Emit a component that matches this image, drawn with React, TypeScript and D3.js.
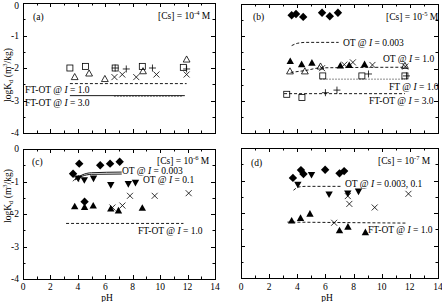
import React from 'react';
import * as d3 from 'd3';

type Pt = [number, number];

// ---------- data: panel (a) [Cs] = 1e-4 M ----------
const aSquares: Pt[] = [[3.42, -2.0], [4.55, -1.95], [6.72, -2.0], [8.7, -1.95], [11.69, -1.98]];
const aTriOpen: Pt[] = [[3.77, -2.28], [4.82, -2.17], [5.97, -2.34], [8.75, -2.1], [11.93, -1.74]];
const aCrosses: Pt[] = [[6.67, -2.28], [7.24, -2.2], [8.26, -2.28], [9.73, -2.2], [11.93, -2.2]];
const aPlus: Pt[] = [[6.72, -2.0], [7.53, -2.03], [9.44, -2.0], [11.93, -2.03]];
const aFtOt10: Pt[] = [[3.42, -2.48], [11.93, -2.48]];
const aFtOt30: Pt[] = [[3.42, -2.85], [11.8, -2.85]];
const aFtOt30b: Pt[] = [[6.67, -2.87], [11.7, -2.87]];

// ---------- data: panel (b) [Cs] = 1e-5 M ----------
const bDiamonds: Pt[] = [[3.6, -0.35], [3.91, -0.31], [4.42, -0.4], [5.76, -0.27], [6.31, -0.38], [6.89, -0.27]];
const bTriFilled: Pt[] = [[3.5, -1.78], [4.31, -1.875], [5.04, -1.83], [7.06, -1.92], [7.69, -1.9], [8.78, -1.875]];
const bTriOpen: Pt[] = [[3.48, -2.09], [4.54, -2.09], [5.65, -1.94], [11.65, -1.92]];
const bCrosses: Pt[] = [[5.76, -1.99], [7.34, -1.88], [7.95, -1.81], [9.34, -1.89], [11.67, -1.94]];
const bSquares: Pt[] = [[3.25, -2.8], [4.33, -2.9], [5.81, -2.23], [8.59, -2.23], [11.65, -2.23]];
const bPlus: Pt[] = [[6.0, -2.75], [6.82, -2.67], [9.06, -2.17], [11.76, -2.23]];
const bOt0003: Pt[] = [[3.6, -1.29], [4.0, -1.22], [4.6, -1.19], [6.94, -1.19]];
const bOt10: Pt[] = [[3.53, -2.12], [4.6, -2.06], [5.65, -1.98], [11.76, -1.96]];
const bFt10: Pt[] = [[5.65, -2.33], [11.65, -2.33]];
const bFtOt30: Pt[] = [[3.06, -2.78], [11.65, -2.78]];

// ---------- data: panel (c) [Cs] = 1e-6 M ----------
const cDiamonds: Pt[] = [[3.65, -0.76], [4.1, -0.45], [5.63, -0.5], [6.35, -0.45], [7.05, -0.39], [4.49, -1.62]];
const cTriDown: Pt[] = [[4.03, -0.9], [4.47, -0.95], [5.14, -0.9], [6.4, -1.1], [7.68, -1.07], [8.2, -1.03]];
const cCrosses: Pt[] = [[3.86, -0.9], [6.52, -1.8], [7.25, -1.74], [7.8, -1.44], [9.6, -1.44], [12.08, -1.36]];
const cTriUp: Pt[] = [[3.77, -1.77], [4.49, -1.79], [5.12, -1.75], [6.4, -1.84], [6.96, -1.9], [8.7, -1.82]];
const cOt0003: Pt[] = [[3.8, -0.93], [4.3, -0.8], [5.0, -0.73], [7.2, -0.71]];
const cOt01: Pt[] = [[3.8, -0.95], [4.3, -0.84], [5.0, -0.78], [7.2, -0.77]];
const cFtOt10: Pt[] = [[3.14, -2.29], [11.7, -2.29]];

// ---------- data: panel (d) [Cs] = 1e-7 M ----------
const dDiamonds: Pt[] = [[3.69, -0.92], [4.26, -0.68], [4.44, -0.8], [5.98, -0.67], [7.0, -0.78], [7.33, -0.71]];
const dTriDown: Pt[] = [[4.04, -1.12], [5.01, -0.82], [6.26, -1.42], [7.59, -1.39], [8.35, -1.33]];
const dCrosses: Pt[] = [[6.62, -2.3], [7.59, -1.48], [7.7, -1.72], [9.5, -1.83], [11.9, -1.41]];
const dTriUp: Pt[] = [[3.6, -2.24], [4.23, -2.16], [4.9, -2.03], [7.0, -2.54], [7.6, -2.43], [8.84, -2.6]];
const dOt: Pt[] = [[3.73, -1.3], [4.1, -1.2], [4.6, -1.18], [7.09, -1.18]];
const dFtOt10: Pt[] = [[3.3, -2.28], [11.7, -2.31]];

// ---------- ticks ----------
const PH_TICKS = [0, 2, 4, 6, 8, 10, 12, 14];
const LOGK_TICKS = [0, -1, -2, -3, -4];

const FONT = '"Liberation Serif", "Times New Roman", serif';
const LFS = 9.5;

type MType = 'diamond' | 'triUp' | 'triDown' | 'triOpen' | 'square' | 'cross' | 'plus';

function Marker({ type, x, y }: { type: MType; x: number; y: number }) {
  const sw = 0.8;
  switch (type) {
    case 'diamond': {
      const r = 4.2;
      return <path d={`M${x},${y - r}L${x + r},${y}L${x},${y + r}L${x - r},${y}Z`} fill="#000" />;
    }
    case 'triUp':
      return <path d={`M${x},${y - 3.9}L${x + 3.7},${y + 2.7}L${x - 3.7},${y + 2.7}Z`} fill="#000" />;
    case 'triDown':
      return <path d={`M${x},${y + 3.9}L${x + 3.7},${y - 2.7}L${x - 3.7},${y - 2.7}Z`} fill="#000" />;
    case 'triOpen':
      return <path d={`M${x},${y - 3.6}L${x + 3.4},${y + 2.5}L${x - 3.4},${y + 2.5}Z`} fill="none" stroke="#000" strokeWidth={sw} />;
    case 'square':
      return <rect x={x - 3} y={y - 3} width={6} height={6} fill="none" stroke="#000" strokeWidth={sw} />;
    case 'cross':
      return <path d={`M${x - 3},${y - 3}L${x + 3},${y + 3}M${x - 3},${y + 3}L${x + 3},${y - 3}`} stroke="#000" strokeWidth={sw} />;
    case 'plus':
      return <path d={`M${x - 3.5},${y}L${x + 3.5},${y}M${x},${y - 3.5}L${x},${y + 3.5}`} stroke="#000" strokeWidth={sw} />;
  }
  return null;
}

type Series = { pts: Pt[]; type: MType };
type LineS = { pts: Pt[]; dash?: string; curve?: boolean };
type Label = { x: number; y: number; content: React.ReactNode };

function Panel({ x0, x1, y0, y1, series, lines, labels, showX, showY }: {
  x0: number; x1: number; y0: number; y1: number;
  series: Series[]; lines: LineS[]; labels: Label[]; showX: boolean; showY: boolean;
}) {
  const xs = d3.scaleLinear().domain([0, 14]).range([x0, x1]);
  const ys = d3.scaleLinear().domain([-4, 0]).range([y1, y0]);
  const xMinor = d3.range(0, 15, 1);
  const yMinor = d3.range(-4, 0.01, 0.5);
  const tickPath: string[] = [];
  xMinor.forEach(v => {
    const len = v % 2 === 0 ? 4 : 2.5;
    const px = Math.round(xs(v)) + 0.5;
    tickPath.push(`M${px},${y1}L${px},${y1 - len}`);
    tickPath.push(`M${px},${y0}L${px},${y0 + len}`);
  });
  yMinor.forEach(v => {
    const len = Number.isInteger(v) ? 4 : 2.5;
    const py = Math.round(ys(v)) + 0.5;
    tickPath.push(`M${x0},${py}L${x0 + len},${py}`);
    tickPath.push(`M${x1},${py}L${x1 - len},${py}`);
  });
  return (
    <g>
      <rect x={x0 + 0.5} y={y0 + 0.5} width={x1 - x0} height={y1 - y0} fill="none" stroke="#000" strokeWidth={1} />
      <path d={tickPath.join('')} stroke="#000" strokeWidth={1} />
      {showX && PH_TICKS.map(v => (
        <text key={'x' + v} x={xs(v)} y={289.5} fontSize={9.5} textAnchor="middle" fontFamily={FONT}>{v}</text>
      ))}
      {showY && LOGK_TICKS.map(v => (
        <text key={'y' + v} x={x0 - 4} y={Math.max(ys(v), 6)} dy="0.35em" fontSize={9.5} textAnchor="end" fontFamily={FONT}>{v === 0 ? '0' : `-${Math.abs(v)}`}</text>
      ))}
      {lines.map((l, i) => {
        const gen = d3.line<Pt>().x(d => xs(d[0])).y(d => ys(d[1]));
        if (l.curve) gen.curve(d3.curveMonotoneX);
        return <path key={'l' + i} d={gen(l.pts) || ''} fill="none" stroke="#000" strokeWidth={0.9} strokeDasharray={l.dash} />;
      })}
      {series.map((s, i) => s.pts.map((p, j) => (
        <Marker key={`m${i}-${j}`} type={s.type} x={xs(p[0])} y={ys(p[1])} />
      )))}
      {labels.map((lb, i) => (
        <text key={'t' + i} x={x0 + lb.x} y={y0 + lb.y} dy="0.35em" fontSize={LFS} fontFamily={FONT}>{lb.content}</text>
      ))}
    </g>
  );
}

const I = () => <tspan fontStyle="italic">I</tspan>;
const cs = (e: string) => (
  <>[Cs] = 10<tspan dy="-4" fontSize={6.5}>{e}</tspan><tspan dy="4"> M</tspan></>
);

const DASH = '3,2';
const DOT = '1,2';

export default function App() {
  return (
    <svg width={442} height={302} style={{ position: 'absolute', left: 0, top: 0, background: '#fff' }}>
      <rect width={442} height={302} fill="#fff" />
      <Panel x0={23} x1={215} y0={3} y1={133} showX={false} showY={true}
        series={[
          { pts: aSquares, type: 'square' }, { pts: aTriOpen, type: 'triOpen' },
          { pts: aCrosses, type: 'cross' }, { pts: aPlus, type: 'plus' },
        ]}
        lines={[{ pts: aFtOt10, dash: DASH }, { pts: aFtOt30 }, { pts: aFtOt30b, dash: DOT }]}
        labels={[
          { x: 10, y: 14, content: '(a)' },
          { x: 135, y: 13, content: cs('-4') },
          { x: 2, y: 87, content: <>FT-OT @ <I /> = 1.0</> },
          { x: 2, y: 100, content: <>FT-OT @ <I /> = 3.0</> },
        ]} />
      <Panel x0={241} x1={438} y0={4} y1={133} showX={false} showY={false}
        series={[
          { pts: bDiamonds, type: 'diamond' }, { pts: bTriFilled, type: 'triUp' },
          { pts: bTriOpen, type: 'triOpen' }, { pts: bCrosses, type: 'cross' },
          { pts: bSquares, type: 'square' }, { pts: bPlus, type: 'plus' },
        ]}
        lines={[
          { pts: bOt0003, dash: DASH, curve: true }, { pts: bOt10, dash: DASH, curve: true },
          { pts: bFt10, dash: DOT }, { pts: bFtOt30, dash: DASH },
        ]}
        labels={[
          { x: 12, y: 13, content: '(b)' },
          { x: 145, y: 13, content: cs('-5') },
          { x: 102, y: 39, content: <>OT @ <I /> = 0.003</> },
          { x: 142, y: 55, content: <>OT @ <I /> = 1.0</> },
          { x: 148, y: 83, content: <>FT @ <I /> = 1.0</> },
          { x: 128, y: 97, content: <>FT-OT @ <I /> = 3.0</> },
        ]} />
      <Panel x0={23} x1={215} y0={149} y1={279} showX={true} showY={true}
        series={[
          { pts: cCrosses, type: 'cross' }, { pts: cTriUp, type: 'triUp' },
          { pts: cTriDown, type: 'triDown' }, { pts: cDiamonds, type: 'diamond' },
        ]}
        lines={[
          { pts: cOt0003, curve: true }, { pts: cOt01, curve: true }, { pts: cFtOt10, dash: DASH },
        ]}
        labels={[
          { x: 9, y: 13, content: '(c)' },
          { x: 134, y: 12, content: cs('-6') },
          { x: 99, y: 22, content: <>OT @ <I /> = 0.003</> },
          { x: 120, y: 31, content: <>OT @ <I /> = 0.1</> },
          { x: 115, y: 82, content: <>FT-OT @ <I /> = 1.0</> },
        ]} />
      <Panel x0={241} x1={438} y0={148} y1={278} showX={true} showY={false}
        series={[
          { pts: dCrosses, type: 'cross' }, { pts: dTriUp, type: 'triUp' },
          { pts: dTriDown, type: 'triDown' }, { pts: dDiamonds, type: 'diamond' },
        ]}
        lines={[{ pts: dOt, dash: DASH, curve: true }, { pts: dFtOt10, dash: DASH }]}
        labels={[
          { x: 10, y: 15, content: '(d)' },
          { x: 137, y: 13, content: cs('-7') },
          { x: 104, y: 36, content: <>OT @ <I /> = 0.003, 0.1</> },
          { x: 127, y: 82, content: <>FT-OT @ <I /> = 1.0</> },
        ]} />
      {[75, 196].map(cy => (
        <text key={'yl' + cy} transform={`translate(8,${cy}) rotate(-90)`} textAnchor="middle" dy="0.35em" fontSize={9.5} fontFamily={FONT}>
          logK<tspan dy="2" fontSize={6.5}>d</tspan><tspan dy="-2"> (m</tspan><tspan dy="-4" fontSize={6.5}>3</tspan><tspan dy="4">/kg)</tspan>
        </text>
      ))}
      {[107, 327].map(cx => (
        <text key={'xl' + cx} x={cx} y={300.5} textAnchor="middle" fontSize={9.5} fontFamily={FONT}>pH</text>
      ))}
    </svg>
  );
}
